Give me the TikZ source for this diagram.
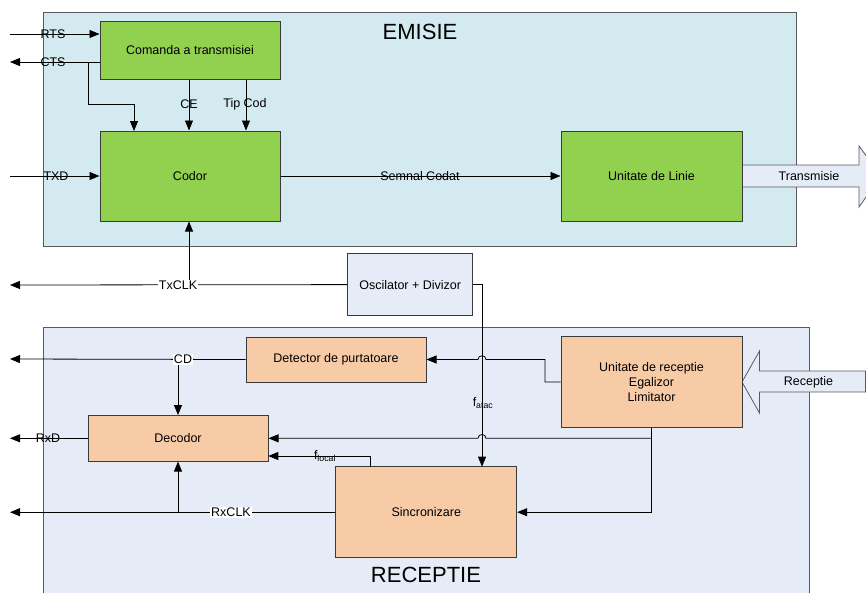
\documentclass[tikz,border=0pt]{standalone}
\usepackage{fontspec}
\setmainfont{Liberation Sans}
\usetikzlibrary{arrows.meta,calc}
\definecolor{emibg}{HTML}{D3EAF0}
\definecolor{recbg}{HTML}{E5ECF7}
\definecolor{boxgreen}{HTML}{92D050}
\definecolor{boxpeach}{HTML}{F8CBA7}
\definecolor{edgegray}{HTML}{3A3A3A}
\definecolor{framegray}{HTML}{5A5A5A}
\tikzset{
  lbl/.style={font=\fontsize{12.5}{15}\selectfont, inner sep=1pt},
  wlbl/.style={lbl, fill=white},
  title/.style={font=\fontsize{22}{26}\selectfont},
  gbox/.style={draw=edgegray, line width=1pt, fill=boxgreen, minimum width=180pt, font=\fontsize{12.5}{15}\selectfont, align=center},
  pbox/.style={draw=edgegray, line width=1pt, fill=boxpeach, minimum width=180pt, font=\fontsize{12.5}{15}\selectfont, align=center},
  region/.style={draw=framegray, line width=1pt},
  wire/.style={draw=black, line width=0.8pt},
  arr/.style={wire, -{Triangle[length=10pt,width=8pt]}},
  bigarrow/.style={draw=framegray, line width=0.8pt, fill=recbg},
}
\begin{document}
\begin{tikzpicture}[x=1pt,y=-1pt]
\useasboundingbox (0,0) rectangle (866,592);
\clip (0,0) rectangle (866,592);
% regions
\fill[emibg] (43,12) rectangle (796,246);
\draw[region] (43,12) rectangle (796,246);
\fill[recbg] (43,327) rectangle (809,600);
\draw[region] (43,600) -- (43,327) -- (809,327) -- (809,600);
\node[title] (emisie) at (420,32) {EMISIE};
\node[title] (receptie) at (426,575) {RECEPTIE};

% big arrows
\draw[bigarrow] (742,165) -- (859,165) -- (859,146) -- (881,176) -- (859,207) -- (859,187) -- (742,187) -- cycle;
\draw[bigarrow] (865.5,371) -- (759.5,371) -- (759.5,351) -- (742,382) -- (759.5,413) -- (759.5,392) -- (865.5,392) -- cycle;

% boxes
\node[gbox, minimum height=58pt] (cmd) at (190,50) {Comanda a transmisiei};
\node[gbox, minimum height=90pt] (codor) at (190,176) {Codor};
\node[gbox, minimum width=181pt, minimum height=90pt] (unl) at (651.5,176) {Unitate de Linie};
\node[draw=edgegray, line width=1pt, fill=recbg, minimum width=125pt, minimum height=62pt, font=\fontsize{12.5}{15}\selectfont] (osc) at (410.2,284.6) {Oscilator + Divizor};
\node[pbox, minimum height=45pt] (det) at (336,359.5) {Detector de purtatoare};
\node[pbox, minimum height=45.5pt] (dec) at (178,438.3) {Decodor};
\node[pbox, minimum width=180.7pt, minimum height=91pt] (sync) at (426.3,512.2) {Sincronizare};
\node[pbox, minimum width=181pt, minimum height=90.7pt] (urx) at (651.5,382) {Unitate de receptie\\Egalizor\\Limitator};

\node[lbl] (trlbl) at (809,176) {Transmisie};
\node[lbl] (rclbl) at (808.5,382) {Receptie};

% endpoints
\coordinate (rtsL) at (10,34);
\coordinate (ctsL) at (10,62);
\coordinate (txdL) at (10,176);
\coordinate (txclkL) at (10,285);
\coordinate (cdL) at (10,359);
\coordinate (rxdL) at (10,438.3);
\coordinate (rxclkL) at (10,512.2);

% EMISIE wires
\draw[arr] (rtsL) -- (rtsL -| cmd.west);
\node[lbl] (rts) at (53,34) {RTS};
\draw[arr] (ctsL -| cmd.west) -- (ctsL);
\node[lbl] (cts) at (53,62) {CTS};
\draw[arr] (88,62) -- (88,104) -- (134,104) -- (134,131);
\draw[arr] ([xshift=-1pt]cmd.south) -- ([xshift=-1pt]codor.north);
\node[lbl] (ce) at (189,104) {CE};
\draw[arr] ([xshift=56pt]cmd.south) -- ([xshift=56pt]codor.north);
\node[lbl] (tipcod) at (245,104) {Tip Cod};
\draw[arr] (txdL) -- (codor.west);
\node[lbl] (txd) at (56,176) {TXD};
\draw[arr] (codor.east) -- (unl.west);
\node[lbl] (semnal) at (420,176) {Semnal Codat};

% clock
\draw[arr] (osc.west) -- (txclkL);
\draw[arr] (189,285) -- ([xshift=-1pt]codor.south);
\node[wlbl] (txclk) at (178,285) {TxCLK};
\draw[arr] (osc.east) -- (482,284.6) -- (482,466.7);
\node[lbl] (fatac) at (483,403) {f\textsubscript{atac}};

% RECEPTIE wires
\draw[arr] (urx.west) -- (545,382) -- (545,359.5) -- (486,359.5)
  .. controls (486,354.5) and (478,354.5) .. (478,359.5) -- (det.east);
\draw[arr] (det.west) -- (cdL);
\draw[arr] (178,359.5) -- (dec.north);
\node[wlbl] (cd) at (183,359.5) {CD};
\draw[arr] (dec.west) -- (rxdL);
\node[lbl] (rxd) at (48,438.3) {RxD};
\draw[arr] (urx.south) -- (651.5,438.3) -- (486,438.3)
  .. controls (486,433.3) and (478,433.3) .. (478,438.3) -- (dec.east);
\draw[arr] (651.5,438.3) -- (651.5,512.2) -- (sync.east);
\draw[arr] (370,466.7) -- (370,456) -- (268.3,456);
\node[lbl] (flocal) at (325,456) {f\textsubscript{local}};
\draw[arr] (sync.west) -- (rxclkL);
\draw[arr] (178,512.2) -- (dec.south);
\node[wlbl] (rxclk) at (231,512.2) {RxCLK};
\end{tikzpicture}
\end{document}
